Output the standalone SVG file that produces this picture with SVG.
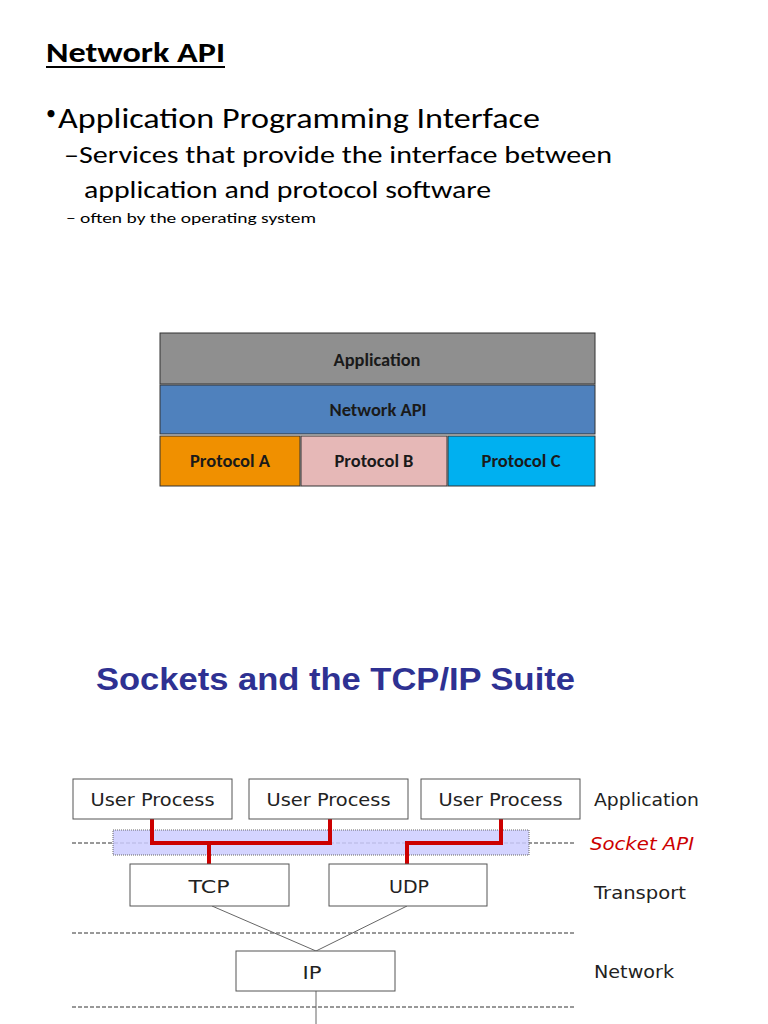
<svg xmlns="http://www.w3.org/2000/svg" width="768" height="1024" viewBox="0 0 768 1024">
<style>
.cal{font-family:Carlito,"Open Sans","Liberation Sans",sans-serif;fill:#000}
.stk{font-family:Carlito,"Open Sans","Liberation Sans",sans-serif;font-size:18px;font-weight:600;fill:#1a1a1a;text-anchor:middle}
.vd{font-family:"DejaVu Sans",Verdana,sans-serif;font-size:18.5px;fill:#222}
.box{fill:#fff;stroke:#555;stroke-width:1}
.dash{stroke:#333;stroke-width:1;stroke-dasharray:4 2;fill:none}
.red{stroke:#cc0000;stroke-width:4;fill:none}
.thin{stroke:#666;stroke-width:1;fill:none}
</style>
<rect width="768" height="1024" fill="#fff"/>
<g id="heading">
<text class="cal" x="46" y="62" font-size="28" font-weight="bold" textLength="179" lengthAdjust="spacingAndGlyphs">Network API</text>
<line x1="46" y1="67" x2="225" y2="67" stroke="#000" stroke-width="2"/>
<text class="cal" x="46" y="120" font-size="20">•</text>
<text class="cal" x="58" y="128" font-size="29" textLength="482" lengthAdjust="spacingAndGlyphs">Application Programming Interface</text>
<text class="cal" x="64" y="163" font-size="25" textLength="548" lengthAdjust="spacingAndGlyphs">–Services that provide the interface between</text>
<text class="cal" x="84" y="198" font-size="25" textLength="407" lengthAdjust="spacingAndGlyphs">application and protocol software</text>
<text class="cal" x="66" y="223" font-size="15" textLength="250" lengthAdjust="spacingAndGlyphs">– often by the operating system</text>
</g>
<g id="stack">
<rect x="160" y="333" width="435" height="51" fill="#8f8f8f" stroke="#333" stroke-width="1"/>
<text class="stk" x="377" y="366" textLength="87" lengthAdjust="spacingAndGlyphs">Application</text>
<rect x="160" y="385" width="435" height="49" fill="#4f81bd" stroke="#333" stroke-width="1"/>
<text class="stk" x="378" y="416" textLength="97" lengthAdjust="spacingAndGlyphs">Network API</text>
<rect x="160" y="436" width="140" height="50" fill="#f09000" stroke="#333" stroke-width="1"/>
<text class="stk" x="230" y="467" textLength="80" lengthAdjust="spacingAndGlyphs">Protocol A</text>
<rect x="301" y="436" width="146" height="50" fill="#e6b8b7" stroke="#333" stroke-width="1"/>
<text class="stk" x="374" y="467" textLength="79" lengthAdjust="spacingAndGlyphs">Protocol B</text>
<rect x="448" y="436" width="147" height="50" fill="#00b0f0" stroke="#333" stroke-width="1"/>
<text class="stk" x="521" y="467" textLength="79" lengthAdjust="spacingAndGlyphs">Protocol C</text>
</g>
<g id="title2">
<text x="96" y="690" font-family="'Liberation Sans',Arial,sans-serif" font-size="31" font-weight="bold" fill="#2e3192" textLength="479" lengthAdjust="spacingAndGlyphs">Sockets and the TCP/IP Suite</text>
</g>
<g id="layers">
<line class="dash" x1="72" y1="843" x2="575" y2="843"/>
<line class="dash" x1="72" y1="933" x2="575" y2="933"/>
<line class="dash" x1="72" y1="1007" x2="575" y2="1007"/>
</g>
<g id="socket-band">
<rect x="113" y="830" width="416" height="25" fill="#ccccff" fill-opacity="0.85" stroke="#666" stroke-width="1" stroke-dasharray="1 1"/>
</g>
<g id="connectors">
<polyline class="red" points="152,819 152,843 330,843 330,819"/>
<polyline class="red" points="209,843 209,864"/>
<polyline class="red" points="501,819 501,843 407,843 407,864"/>
<line class="thin" x1="212" y1="906" x2="316" y2="951"/>
<line class="thin" x1="407" y1="906" x2="316" y2="951"/>
<line class="thin" x1="316" y1="991" x2="316" y2="1024"/>
</g>
<g id="up1"><rect class="box" x="73" y="779" width="159" height="40"/><text class="vd" x="152.5" y="806" text-anchor="middle" textLength="124" lengthAdjust="spacingAndGlyphs">User Process</text></g>
<g id="up2"><rect class="box" x="249" y="779" width="159" height="40"/><text class="vd" x="328.5" y="806" text-anchor="middle" textLength="124" lengthAdjust="spacingAndGlyphs">User Process</text></g>
<g id="up3"><rect class="box" x="421" y="779" width="159" height="40"/><text class="vd" x="500.5" y="806" text-anchor="middle" textLength="124" lengthAdjust="spacingAndGlyphs">User Process</text></g>
<g id="tcp"><rect class="box" x="130" y="864" width="159" height="42"/><text class="vd" x="209" y="893" text-anchor="middle" textLength="41" lengthAdjust="spacingAndGlyphs">TCP</text></g>
<g id="udp"><rect class="box" x="329" y="864" width="158" height="42"/><text class="vd" x="409" y="893" text-anchor="middle" textLength="40" lengthAdjust="spacingAndGlyphs">UDP</text></g>
<g id="ip"><rect class="box" x="236" y="951" width="159" height="40"/><text class="vd" x="312" y="979" text-anchor="middle" textLength="19" lengthAdjust="spacingAndGlyphs">IP</text></g>
<g id="labels">
<text class="vd" x="594" y="806" textLength="105" lengthAdjust="spacingAndGlyphs">Application</text>
<text class="vd" x="590" y="850" font-style="italic" style="fill:#cc0000" textLength="104" lengthAdjust="spacingAndGlyphs">Socket API</text>
<text class="vd" x="594" y="899" textLength="92" lengthAdjust="spacingAndGlyphs">Transport</text>
<text class="vd" x="594" y="978" textLength="80" lengthAdjust="spacingAndGlyphs">Network</text>
</g>
</svg>
